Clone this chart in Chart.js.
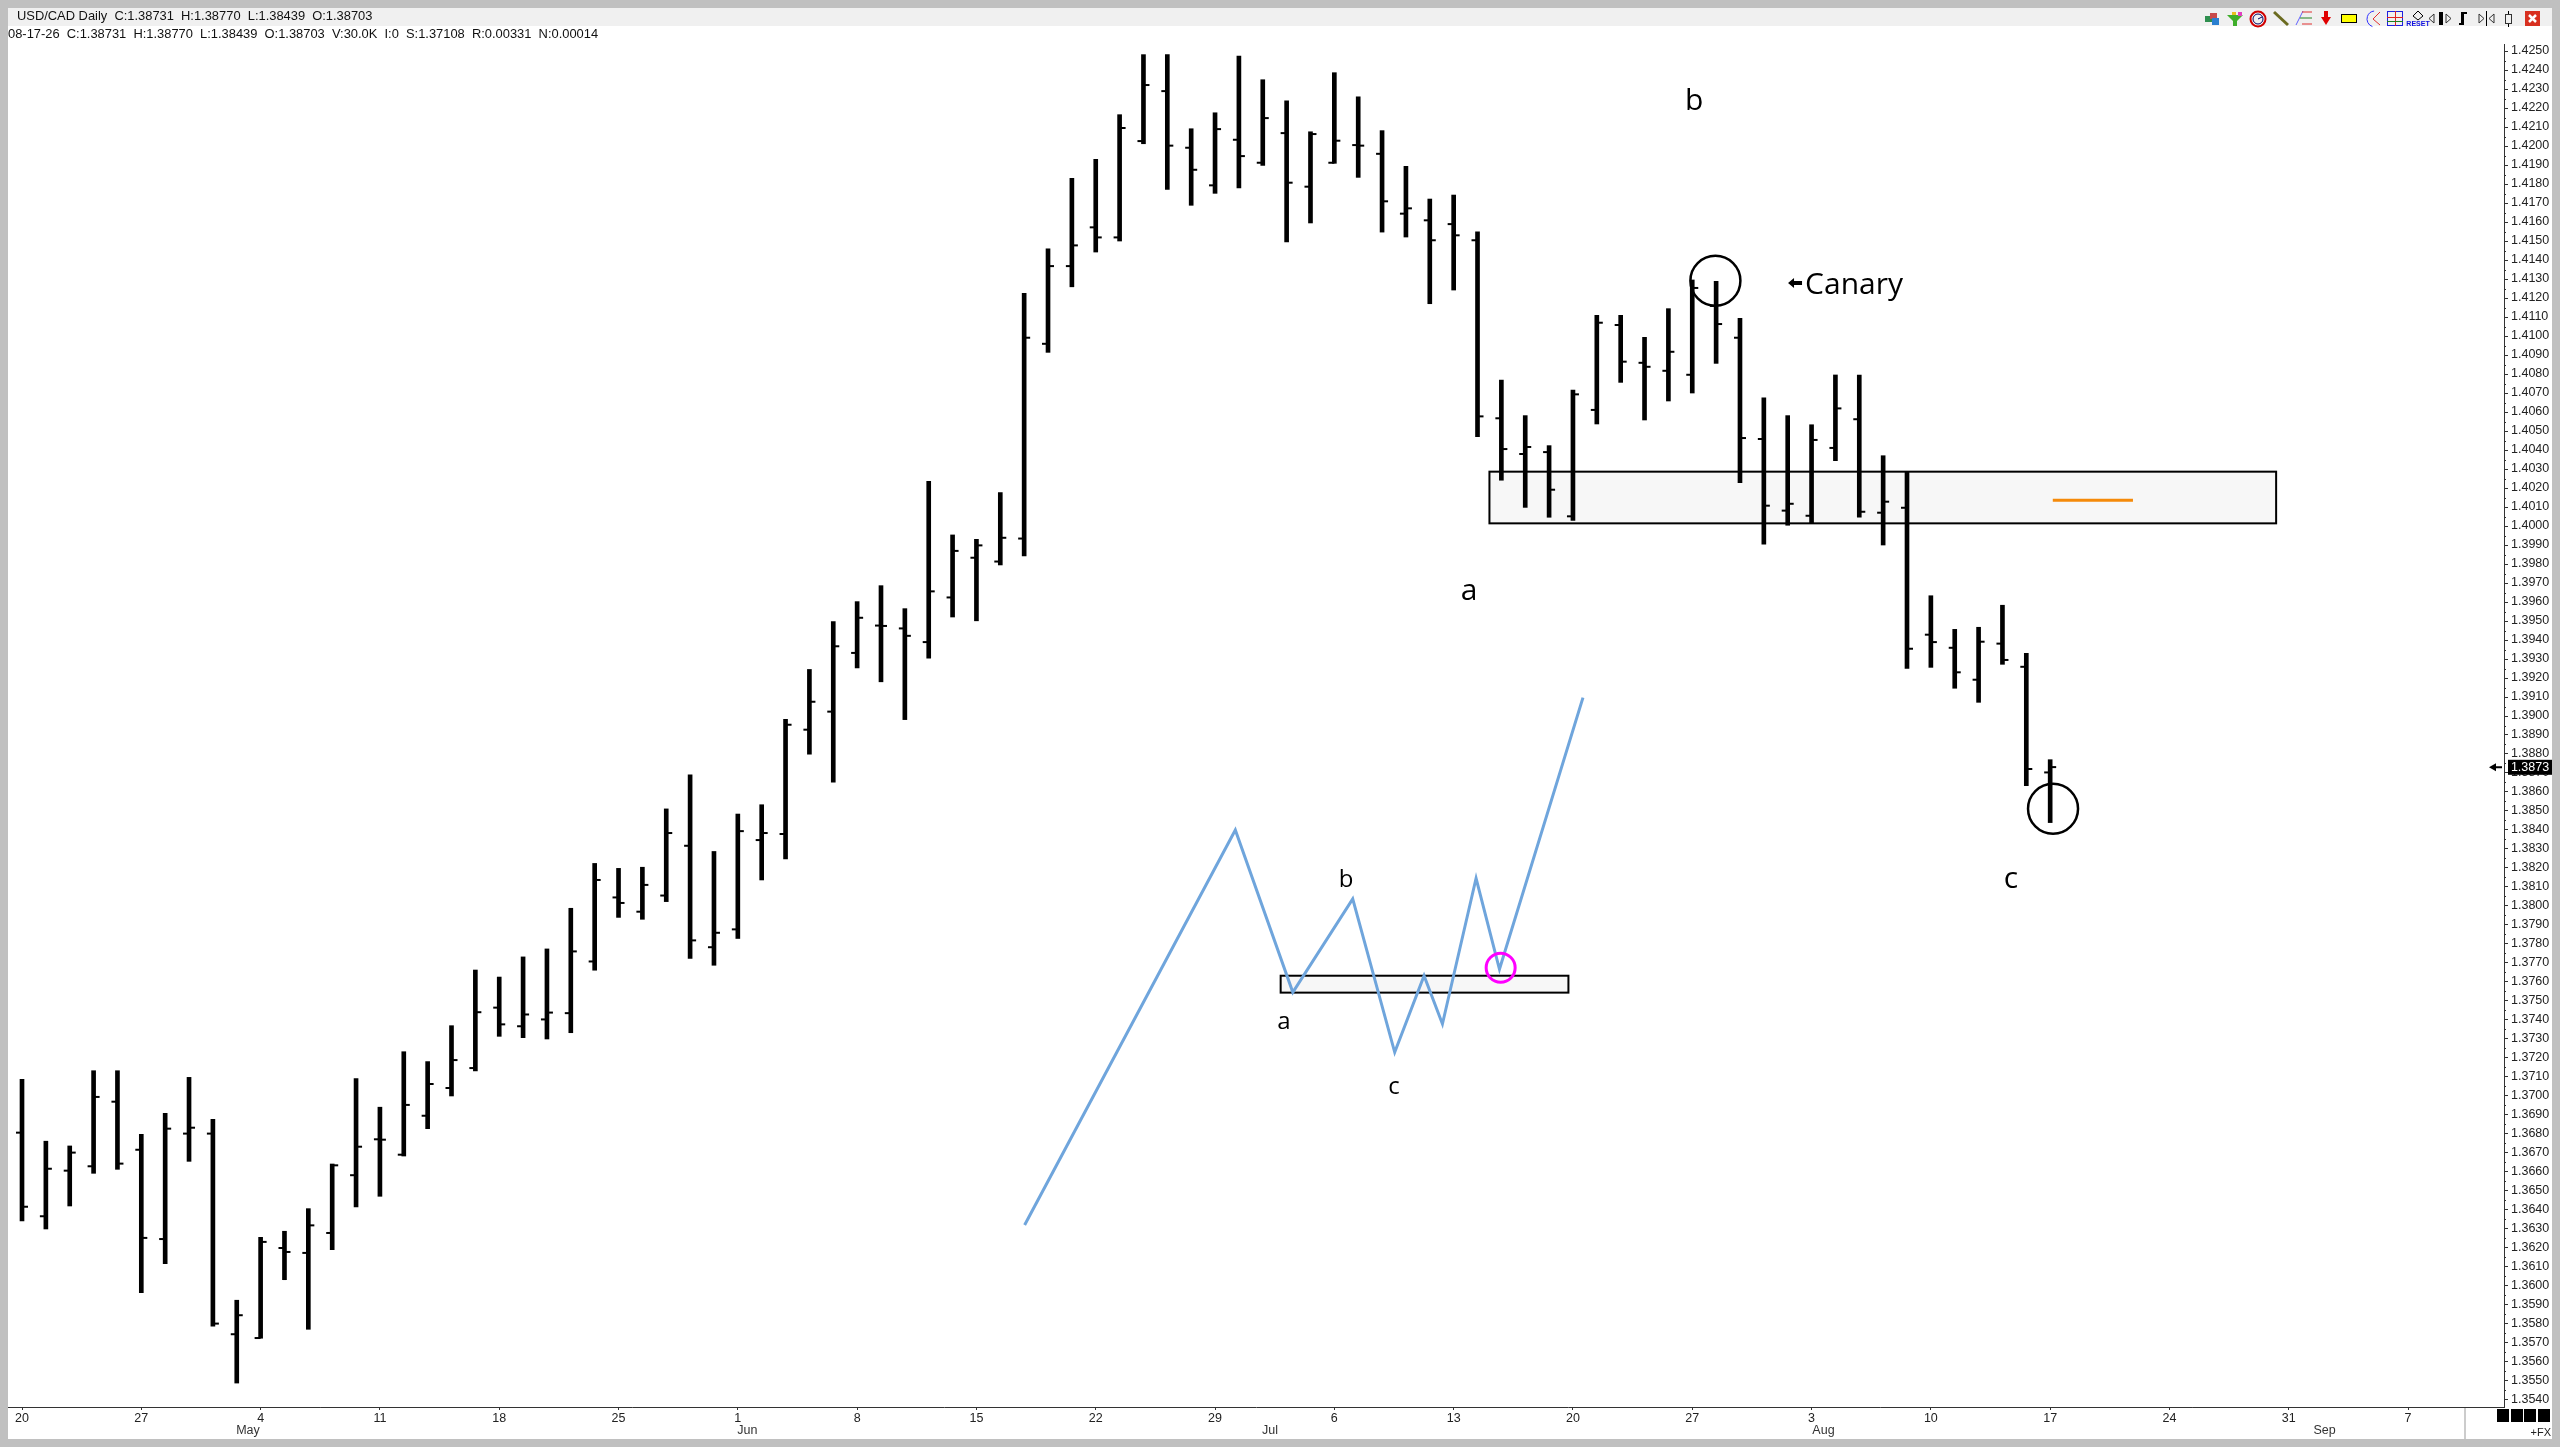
<!DOCTYPE html>
<html>
<head>
<meta charset="utf-8">
<title>USD/CAD Daily</title>
<script src="https://cdn.jsdelivr.net/npm/chart.js@4/dist/chart.umd.min.js"></script>
<style>
    html, body { margin: 0; padding: 0; background: #ffffff; }
    canvas { display: block; }
</style>
</head>
<body>
<canvas id="bar_chart_canvas" width="2560" height="1447"></canvas>
<script>
/*--------------------------------------------------------------------------------
----- DATA (one entry per trading day)
--------------------------------------------------------------------------------*/
var highs = [
    1.37088, 1.36762, 1.36737, 1.37133, 1.37133, 1.36798, 1.36909, 1.37098, 1.36877, 1.35925,
    1.36256, 1.36288, 1.36407, 1.36642, 1.37091, 1.36941, 1.37233, 1.37181, 1.37370, 1.37663,
    1.37626, 1.37732, 1.37774, 1.37988, 1.38224, 1.38198, 1.38204, 1.38511, 1.38690, 1.38287,
    1.38484, 1.38533, 1.38983, 1.39245, 1.39497, 1.39602, 1.39686, 1.39565, 1.40235, 1.39953,
    1.39930, 1.40176, 1.41225, 1.41459, 1.41830, 1.41930, 1.42165, 1.42481, 1.42481, 1.42091,
    1.42175, 1.42474, 1.42349, 1.42238, 1.42075, 1.42386, 1.42259, 1.42081, 1.41893, 1.41721,
    1.41742, 1.41549, 1.40768, 1.40581, 1.40423, 1.40716, 1.41109, 1.41109, 1.40993, 1.41144,
    1.41295, 1.41288, 1.41093, 1.40675, 1.40581, 1.40533, 1.40795, 1.40795, 1.40370, 1.40286,
    1.39633, 1.39456, 1.39467, 1.39583, 1.39330, 1.38770
];
var lows = [
    1.36342, 1.36300, 1.36421, 1.36593, 1.36614, 1.35965, 1.36117, 1.36656, 1.35788, 1.35489,
    1.35725, 1.36033, 1.35772, 1.36191, 1.36416, 1.36472, 1.36684, 1.36828, 1.37000, 1.37132,
    1.37314, 1.37307, 1.37300, 1.37333, 1.37662, 1.37940, 1.37930, 1.38023, 1.37724, 1.37688,
    1.37829, 1.38137, 1.38248, 1.38799, 1.38652, 1.39253, 1.39180, 1.38981, 1.39305, 1.39521,
    1.39501, 1.39795, 1.39842, 1.40914, 1.41259, 1.41442, 1.41500, 1.42012, 1.41772, 1.41688,
    1.41751, 1.41779, 1.41898, 1.41495, 1.41595, 1.41909, 1.41835, 1.41547, 1.41521, 1.41170,
    1.41242, 1.40470, 1.40241, 1.40098, 1.40046, 1.40030, 1.40537, 1.40756, 1.40558, 1.40658,
    1.40700, 1.40856, 1.40228, 1.39905, 1.40004, 1.40014, 1.40344, 1.40046, 1.39900, 1.39251,
    1.39256, 1.39146, 1.39072, 1.39272, 1.38633, 1.38439
];
var opens = [
    1.36807, 1.36367, 1.36607, 1.36630, 1.36970, 1.36717, 1.36247, 1.36802, 1.36802, 1.35746,
    1.35726, 1.36200, 1.36174, 1.36279, 1.36583, 1.36772, 1.36691, 1.36896, 1.37042, 1.37147,
    1.37465, 1.37367, 1.37403, 1.37436, 1.37708, 1.38045, 1.37970, 1.38055, 1.38317, 1.37783,
    1.37877, 1.38347, 1.38379, 1.38928, 1.39023, 1.39332, 1.39476, 1.39461, 1.39389, 1.39624,
    1.39833, 1.39813, 1.39934, 1.40959, 1.41368, 1.41572, 1.41519, 1.42026, 1.42289, 1.41991,
    1.41793, 1.42033, 1.41912, 1.42068, 1.41786, 1.41912, 1.42005, 1.41959, 1.41644, 1.41609,
    1.41589, 1.41504, 1.40567, 1.40379, 1.40389, 1.40051, 1.40611, 1.41058, 1.40859, 1.40817,
    1.40796, 1.41158, 1.40991, 1.40458, 1.40081, 1.40054, 1.40411, 1.40562, 1.40070, 1.40096,
    1.39428, 1.39359, 1.39191, 1.39381, 1.39259, 1.38703
];
var closes = [
    1.36417, 1.36617, 1.36702, 1.36995, 1.36644, 1.36253, 1.36828, 1.36833, 1.35802, 1.35846,
    1.36232, 1.36179, 1.36319, 1.36635, 1.36733, 1.36770, 1.36953, 1.37063, 1.37189, 1.37441,
    1.37377, 1.37429, 1.37439, 1.37761, 1.38137, 1.38016, 1.38111, 1.38384, 1.37819, 1.37859,
    1.38394, 1.38384, 1.38954, 1.39075, 1.39367, 1.39517, 1.39474, 1.39422, 1.39656, 1.39869,
    1.39898, 1.39938, 1.40991, 1.41368, 1.41477, 1.41519, 1.42095, 1.42321, 1.42002, 1.41875,
    1.42089, 1.41947, 1.42147, 1.41807, 1.42063, 1.42028, 1.42002, 1.41709, 1.41672, 1.41504,
    1.41530, 1.40577, 1.40405, 1.40416, 1.40191, 1.40693, 1.41070, 1.40865, 1.40838, 1.40917,
    1.41253, 1.41063, 1.40463, 1.40107, 1.40117, 1.40453, 1.40619, 1.40075, 1.40128, 1.39354,
    1.39389, 1.39230, 1.39391, 1.39295, 1.38721, 1.38731
];

// X axis: weekly ticks given as bar positions, and the month names under them
var week_positions = [0, 5, 10, 15, 20, 25, 30, 35, 40, 45, 50, 55, 60, 65, 70, 75, 80, 85, 90, 95, 100];
var week_labels = ['20', '27', '4', '11', '18', '25', '1', '8', '15', '22', '29', '6', '13', '20', '27', '3', '10', '17', '24', '31', '7'];
var month_positions = [9.47, 30.4, 52.3, 75.5, 96.5];
var month_labels = ['May', 'Jun', 'Jul', 'Aug', 'Sep'];

// Y axis labels
var price_labels = [
    '1.4250', '1.4240', '1.4230', '1.4220', '1.4210', '1.4200', '1.4190', '1.4180', '1.4170', '1.4160',
    '1.4150', '1.4140', '1.4130', '1.4120', '1.4110', '1.4100', '1.4090', '1.4080', '1.4070', '1.4060',
    '1.4050', '1.4040', '1.4030', '1.4020', '1.4010', '1.4000', '1.3990', '1.3980', '1.3970', '1.3960',
    '1.3950', '1.3940', '1.3930', '1.3920', '1.3910', '1.3900', '1.3890', '1.3880', '1.3870', '1.3860',
    '1.3850', '1.3840', '1.3830', '1.3820', '1.3810', '1.3800', '1.3790', '1.3780', '1.3770', '1.3760',
    '1.3750', '1.3740', '1.3730', '1.3720', '1.3710', '1.3700', '1.3690', '1.3680', '1.3670', '1.3660',
    '1.3650', '1.3640', '1.3630', '1.3620', '1.3610', '1.3600', '1.3590', '1.3580', '1.3570', '1.3560',
    '1.3550', '1.3540'
];
var last_price = 1.3873;

// Hand drawn sketch line, in bar positions and prices
var sketch_positions = [42.02, 50.85, 53.26, 55.77, 57.53, 58.76, 59.53, 60.94, 61.92, 65.42];
var sketch_prices = [1.36321, 1.38400, 1.37546, 1.38037, 1.37230, 1.37633, 1.37379, 1.38146, 1.37667, 1.39097];

// Boxes [first bar, last bar, top price, bottom price]
var zone_large = [61.5, 94.47, 1.40286, 1.40014];
var zone_small = [52.75, 64.81, 1.37633, 1.37544];
var orange_positions = [85.11, 88.47];
var orange_prices = [1.40135, 1.40135];

// Circled spots
var black_circle_positions = [70.97, 85.12];
var black_circle_prices = [1.41291, 1.38512];
var magenta_circle_positions = [61.97];
var magenta_circle_prices = [1.37675];

// Wave labels
var big_note_texts = ['b', 'a', 'c', 'Canary'];
var big_note_positions = [70.08, 60.65, 83.36, 76.78];
var big_note_prices = [1.42237, 1.39658, 1.38142, 1.41268];
var small_note_texts = ['a', 'b', 'c'];
var small_note_positions = [52.89, 55.49, 57.5];
var small_note_prices = [1.37389, 1.38137, 1.37047];

var title_line = 'USD/CAD Daily  C:1.38731  H:1.38770  L:1.38439  O:1.38703';
var info_line = '08-17-26  C:1.38731  H:1.38770  L:1.38439  O:1.38703  V:30.0K  I:0  S:1.37108  R:0.00331  N:0.00014';

/*--------------------------------------------------------------------------------
----- HELPERS
--------------------------------------------------------------------------------*/
function zip_points(positions, prices) {
    return positions.map(function (position, index) {
        return { x: position, y: prices[index] };
    });
}

function bar_ranges() {
    return highs.map(function (high, index) {
        return { x: index, y: [lows[index], high] };
    });
}

function day_points(values) {
    return values.map(function (value, index) {
        return { x: index, y: value };
    });
}

function draw_zone(ctx, chart, zone) {
    var left = chart.scales.x.getPixelForValue(zone[0]);
    var right = chart.scales.x.getPixelForValue(zone[1]);
    var top = chart.scales.y.getPixelForValue(zone[2]);
    var bottom = chart.scales.y.getPixelForValue(zone[3]);
    ctx.fillStyle = '#f7f7f7';
    ctx.fillRect(left, top, right - left, bottom - top);
    ctx.strokeStyle = '#000000';
    ctx.lineWidth = 2;
    ctx.strokeRect(left, top, right - left, bottom - top);
}

function draw_notes(ctx, chart, texts, positions, prices, font) {
    ctx.font = font;
    ctx.fillStyle = '#000000';
    ctx.textAlign = 'center';
    ctx.textBaseline = 'middle';
    texts.forEach(function (text, index) {
        ctx.fillText(text, chart.scales.x.getPixelForValue(positions[index]), chart.scales.y.getPixelForValue(prices[index]));
    });
}

// The little window buttons in the top strip
function draw_toolbar(ctx) {
    ctx.save();
    ctx.lineWidth = 1;
    // cubes
    ctx.fillStyle = '#2f8f4f'; ctx.fillRect(2205, 16, 7, 6);
    ctx.fillStyle = '#c84a4a'; ctx.fillRect(2210, 13, 7, 6);
    ctx.fillStyle = '#2a7fd0'; ctx.fillRect(2212, 18, 7, 7);
    // funnel
    ctx.fillStyle = '#3fae2a';
    ctx.beginPath(); ctx.moveTo(2227, 15); ctx.lineTo(2243, 15); ctx.lineTo(2237, 21); ctx.lineTo(2237, 26); ctx.lineTo(2233, 26); ctx.lineTo(2233, 21); ctx.fill();
    ctx.fillStyle = '#e040c0'; ctx.fillRect(2238, 12, 4, 4);
    ctx.fillStyle = '#e8c020'; ctx.fillRect(2232, 12, 4, 3);
    // gauge
    ctx.strokeStyle = '#d00000'; ctx.lineWidth = 2;
    ctx.beginPath(); ctx.arc(2258, 19, 7.5, 0, Math.PI * 2); ctx.stroke();
    ctx.strokeStyle = '#000060'; ctx.lineWidth = 1;
    ctx.beginPath(); ctx.arc(2258, 19, 5, 0, Math.PI * 2); ctx.moveTo(2258, 19); ctx.lineTo(2262, 17); ctx.stroke();
    // pencil
    ctx.strokeStyle = '#6b6b20'; ctx.lineWidth = 3;
    ctx.beginPath(); ctx.moveTo(2274, 12); ctx.lineTo(2288, 25); ctx.stroke();
    // fibonacci lines
    ctx.lineWidth = 1;
    ctx.strokeStyle = '#6060ff'; ctx.beginPath(); ctx.moveTo(2296, 25); ctx.lineTo(2303, 11); ctx.stroke();
    ctx.strokeStyle = '#e03030'; ctx.beginPath(); ctx.moveTo(2302, 12); ctx.lineTo(2312, 12); ctx.moveTo(2302, 24); ctx.lineTo(2312, 24); ctx.stroke();
    ctx.strokeStyle = '#208020'; ctx.beginPath(); ctx.moveTo(2300, 18); ctx.lineTo(2312, 18); ctx.stroke();
    // red arrow
    ctx.fillStyle = '#e00000';
    ctx.beginPath(); ctx.moveTo(2324, 11); ctx.lineTo(2328, 11); ctx.lineTo(2328, 17); ctx.lineTo(2331, 17); ctx.lineTo(2326, 25); ctx.lineTo(2321, 17); ctx.lineTo(2324, 17); ctx.fill();
    // yellow box
    ctx.fillStyle = '#ffff00'; ctx.strokeStyle = '#000000';
    ctx.fillRect(2341.5, 14.5, 15, 8); ctx.strokeRect(2341.5, 14.5, 15, 8);
    // arc tool
    ctx.strokeStyle = '#3030ff'; ctx.beginPath(); ctx.arc(2375, 19, 8, 1.9, 4.6); ctx.stroke();
    ctx.strokeStyle = '#e03030'; ctx.beginPath(); ctx.moveTo(2380, 12); ctx.lineTo(2373, 19); ctx.lineTo(2380, 25); ctx.stroke();
    // grid
    ctx.strokeStyle = '#2020e0'; ctx.strokeRect(2387.5, 11.5, 15, 14);
    ctx.strokeStyle = '#e02020'; ctx.beginPath(); ctx.moveTo(2387, 17.5); ctx.lineTo(2403, 17.5); ctx.moveTo(2395.5, 11); ctx.lineTo(2395.5, 26); ctx.stroke();
    ctx.strokeStyle = '#208020'; ctx.beginPath(); ctx.moveTo(2387, 21.5); ctx.lineTo(2403, 21.5); ctx.stroke();
    // reset
    ctx.strokeStyle = '#000000';
    ctx.beginPath(); ctx.moveTo(2418, 11); ctx.lineTo(2423, 16); ctx.lineTo(2418, 20); ctx.lineTo(2413, 16); ctx.closePath(); ctx.stroke();
    ctx.fillStyle = '#1010e0'; ctx.font = 'bold 7px "Liberation Sans"'; ctx.textAlign = 'center'; ctx.textBaseline = 'middle';
    ctx.fillText('RESET', 2418, 24);
    // bar width buttons and close
    ctx.fillStyle = '#000000'; ctx.strokeStyle = '#333333';
    ctx.beginPath(); ctx.moveTo(2434, 14); ctx.lineTo(2434, 23); ctx.lineTo(2429, 18.5); ctx.closePath(); ctx.stroke();
    ctx.fillRect(2439, 12, 4, 13);
    ctx.beginPath(); ctx.moveTo(2446, 14); ctx.lineTo(2446, 23); ctx.lineTo(2451, 18.5); ctx.closePath(); ctx.stroke();
    ctx.fillRect(2461, 12, 3, 13); ctx.fillRect(2464, 12, 3, 2); ctx.fillRect(2459, 23, 3, 2);
    ctx.beginPath(); ctx.moveTo(2479, 14); ctx.lineTo(2479, 23); ctx.lineTo(2484, 18.5); ctx.closePath(); ctx.stroke();
    ctx.fillRect(2486, 11, 1, 15);
    ctx.beginPath(); ctx.moveTo(2494, 14); ctx.lineTo(2494, 23); ctx.lineTo(2489, 18.5); ctx.closePath(); ctx.stroke();
    ctx.strokeRect(2505.5, 14.5, 6, 9);
    ctx.fillRect(2508, 11, 1, 3); ctx.fillRect(2508, 24, 1, 3);
    ctx.fillStyle = '#d83020'; ctx.fillRect(2525, 11, 15, 15);
    ctx.strokeStyle = '#ffffff'; ctx.lineWidth = 2.5;
    ctx.beginPath(); ctx.moveTo(2529, 15); ctx.lineTo(2536, 22); ctx.moveTo(2536, 15); ctx.lineTo(2529, 22); ctx.stroke();
    ctx.restore();
}

/*--------------------------------------------------------------------------------
----- PLUGINS (window frame, boxes and labels, drawn through the chart scales)
--------------------------------------------------------------------------------*/
var window_frame_plugin = {
    id: 'window_frame',
    beforeDraw: function (chart) {
        var ctx = chart.ctx;
        ctx.save();
        ctx.fillStyle = '#c0c0c0';
        ctx.fillRect(0, 0, 2560, 1447);
        ctx.fillStyle = '#ffffff';
        ctx.fillRect(8, 8, 2544, 1431);
        ctx.fillStyle = '#f0f0f0';
        ctx.fillRect(8, 8, 2544, 18);
        ctx.fillStyle = '#111111';
        ctx.font = '12.9px "Liberation Sans"';
        ctx.textAlign = 'left';
        ctx.textBaseline = 'middle';
        ctx.fillText(title_line, 17, 16);
        ctx.fillText(info_line, 8, 34);
        draw_toolbar(ctx);
        ctx.restore();
    },
    beforeDatasetsDraw: function (chart) {
        var ctx = chart.ctx;
        ctx.save();
        draw_zone(ctx, chart, zone_large);
        draw_zone(ctx, chart, zone_small);
        ctx.restore();
    },
    afterDraw: function (chart) {
        var ctx = chart.ctx;
        var y_scale = chart.scales.y;
        var x_scale = chart.scales.x;
        ctx.save();

        // Shorter price ticks halfway between the labelled ones
        ctx.strokeStyle = '#333333';
        ctx.lineWidth = 1;
        price_labels.forEach(function (label) {
            var y = Math.round(y_scale.getPixelForValue(parseFloat(label) + 0.0005)) + 0.5;
            if (parseFloat(label) < 1.4250) {
                ctx.beginPath();
                ctx.moveTo(2504, y);
                ctx.lineTo(2506, y);
                ctx.stroke();
            }
        });

        // Month names
        ctx.fillStyle = '#333333';
        ctx.font = '12.5px "Liberation Sans"';
        ctx.textAlign = 'center';
        ctx.textBaseline = 'middle';
        month_labels.forEach(function (label, index) {
            ctx.fillText(label, x_scale.getPixelForValue(month_positions[index]), 1431);
        });

        // Bottom right corner
        ctx.fillStyle = '#cccccc';
        ctx.fillRect(2464, 1408, 2, 31);
        ctx.fillStyle = '#000000';
        [2497, 2511, 2524, 2538].forEach(function (left) {
            ctx.fillRect(left, 1409, 12, 13);
        });
        ctx.fillStyle = '#222222';
        ctx.font = '11px "Liberation Sans"';
        ctx.textAlign = 'right';
        ctx.fillText('+FX', 2551, 1433);

        // Last price tag with its arrow
        var tag_y = y_scale.getPixelForValue(last_price);
        ctx.fillStyle = '#000000';
        ctx.fillRect(2508, tag_y - 7.5, 44, 15);
        ctx.beginPath();
        ctx.moveTo(2489, tag_y);
        ctx.lineTo(2496, tag_y - 4);
        ctx.lineTo(2496, tag_y - 1);
        ctx.lineTo(2502, tag_y - 1);
        ctx.lineTo(2502, tag_y + 1);
        ctx.lineTo(2496, tag_y + 1);
        ctx.lineTo(2496, tag_y + 4);
        ctx.closePath();
        ctx.fill();
        ctx.fillStyle = '#ffffff';
        ctx.font = '12.5px "Liberation Sans"';
        ctx.textAlign = 'center';
        ctx.fillText(last_price.toFixed(4), 2530, tag_y + 0.5);

        // Wave labels
        draw_notes(ctx, chart, big_note_texts, big_note_positions, big_note_prices, '30px "Open Sans"');
        draw_notes(ctx, chart, small_note_texts, small_note_positions, small_note_prices, '24px "Open Sans"');

        // Small arrow in front of "Canary"
        var arrow_x = x_scale.getPixelForValue(big_note_positions[3]) - 66;
        var arrow_y = y_scale.getPixelForValue(big_note_prices[3]) - 2;
        ctx.fillStyle = '#000000';
        ctx.beginPath();
        ctx.moveTo(arrow_x, arrow_y);
        ctx.lineTo(arrow_x + 6, arrow_y - 5);
        ctx.lineTo(arrow_x + 6, arrow_y - 2);
        ctx.lineTo(arrow_x + 14, arrow_y - 2);
        ctx.lineTo(arrow_x + 14, arrow_y + 2);
        ctx.lineTo(arrow_x + 6, arrow_y + 2);
        ctx.lineTo(arrow_x + 6, arrow_y + 5);
        ctx.closePath();
        ctx.fill();
        ctx.restore();
    }
};

/*--------------------------------------------------------------------------------
----- OHLC BAR CHART
--------------------------------------------------------------------------------*/
function initialize_bar_chart() {
    var datapoints = {
        datasets: [
            {
                // Magenta circle on the sketch
                data: zip_points(magenta_circle_positions, magenta_circle_prices),
                pointStyle: 'circle',
                pointRadius: 14.5,
                pointBorderWidth: 3,
                pointBackgroundColor: 'rgba(0, 0, 0, 0)',
                pointBorderColor: '#ff00ff'
            },
            {
                // Circled highs and lows
                data: zip_points(black_circle_positions, black_circle_prices),
                pointStyle: 'circle',
                pointRadius: 25,
                pointBorderWidth: 2.5,
                pointBackgroundColor: 'rgba(0, 0, 0, 0)',
                pointBorderColor: '#000000'
            },
            {
                // Open tick, to the left of the bar
                data: day_points(opens),
                pointStyle: 'dash',
                pointRotation: 180,
                pointRadius: 6,
                pointBorderWidth: 2,
                pointBorderColor: '#000000'
            },
            {
                // Close tick, to the right of the bar
                data: day_points(closes),
                pointStyle: 'dash',
                pointRotation: 0,
                pointRadius: 6,
                pointBorderWidth: 2,
                pointBorderColor: '#000000'
            },
            {
                // High to low
                type: 'bar',
                data: bar_ranges(),
                barThickness: 4,
                grouped: false,
                backgroundColor: '#000000'
            },
            {
                data: zip_points(orange_positions, orange_prices),
                showLine: true,
                pointRadius: 0,
                borderColor: '#f58a0a',
                borderWidth: 3
            },
            {
                data: zip_points(sketch_positions, sketch_prices),
                showLine: true,
                pointRadius: 0,
                borderColor: '#6fa5dc',
                borderWidth: 3,
                tension: 0
            }
        ]
    };

    var context = document.getElementById('bar_chart_canvas').getContext('2d');

    new Chart(context, {
        type: 'scatter',
        data: datapoints,
        plugins: [window_frame_plugin],
        options: {
            responsive: false,
            animation: false,
            devicePixelRatio: 1,
            layout: { autoPadding: false, padding: { left: 8, top: 44, right: 0, bottom: 0 } },
            plugins: {
                legend: { display: false },
                tooltip: { enabled: false },
                title: { display: false }
            },
            scales: {
                x: {
                    type: 'linear',
                    offset: false,
                    min: -0.587,
                    max: 104.02,
                    afterFit: function (scale) {
                        // Keep the plot area at its exact size, labels may overhang
                        scale.height = 40;
                        scale.paddingLeft = 0;
                        scale.paddingRight = 0;
                    },
                    afterBuildTicks: function (scale) {
                        scale.ticks = week_positions.map(function (position) { return { value: position }; });
                    },
                    border: { color: '#333333', width: 1 },
                    grid: { offset: false, drawOnChartArea: false, drawTicks: true, tickLength: 3, tickColor: '#333333' },
                    ticks: {
                        autoSkip: false,
                        maxRotation: 0,
                        padding: 1,
                        color: '#222222',
                        font: { family: '"Liberation Sans"', size: 12.5 },
                        callback: function (value) { return week_labels[week_positions.indexOf(value)]; }
                    }
                },
                y: {
                    type: 'linear',
                    position: 'right',
                    min: 1.35363,
                    max: 1.42537,
                    afterFit: function (scale) {
                        scale.width = 56;
                        scale.paddingTop = 0;
                        scale.paddingBottom = 0;
                    },
                    afterBuildTicks: function (scale) {
                        scale.ticks = price_labels.map(function (label) { return { value: parseFloat(label) }; });
                    },
                    border: { color: '#333333', width: 1 },
                    grid: { drawOnChartArea: false, drawTicks: true, tickLength: 4, tickColor: '#333333' },
                    ticks: {
                        autoSkip: false,
                        padding: 3,
                        color: '#222222',
                        font: { family: '"Liberation Sans"', size: 12.5 },
                        callback: function (value) { return value.toFixed(4); }
                    }
                }
            }
        }
    });
}

initialize_bar_chart();
</script>
</body>
</html>
